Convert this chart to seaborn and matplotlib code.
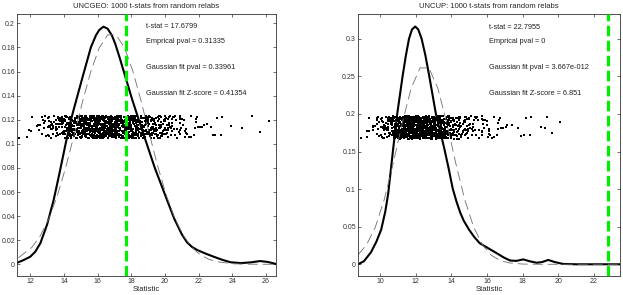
import numpy as np
import pandas as pd
import matplotlib
matplotlib.use('Agg')
import matplotlib.pyplot as plt
import seaborn as sns

# --- UNCGEO panel: density of the 1000 t-stats (solid) and gaussian fit (dashed)
geo_kde_x = [11.22, 11.6, 12.0, 12.3, 12.6, 13.0, 13.4, 13.75, 14.1, 14.4, 14.65,
             15.1, 15.6, 15.9, 16.1, 16.35, 16.6, 16.85, 17.05, 17.3, 17.6, 18.05,
             18.4, 18.8, 19.4, 20.0, 20.55, 21.0, 21.3, 21.6, 21.9, 22.4, 22.9, 23.4,
             23.9, 24.5, 25.1, 25.65, 26.1, 26.6]
geo_kde_y = [0.0013, 0.0035, 0.0063, 0.0105, 0.0175, 0.0330, 0.0540, 0.0765, 0.1000,
             0.1190, 0.1320, 0.1550, 0.1800, 0.1900, 0.1945, 0.1972, 0.1955, 0.1900,
             0.1830, 0.1720, 0.1580, 0.1370, 0.1220, 0.1050, 0.0800, 0.0580, 0.0380,
             0.0250, 0.0185, 0.0145, 0.0120, 0.0090, 0.0063, 0.0038, 0.0017, 0.0010,
             0.0016, 0.0027, 0.0020, 0.0003]
geo_fit_x = [11.3, 12.1, 12.6, 13.1, 13.6, 14.1, 14.6, 15.1, 15.6, 16.1, 16.6, 17.1,
             17.6, 18.1, 18.6, 19.1, 19.6, 20.1, 20.6, 21.1, 21.6, 22.1, 22.6, 23.1,
             24.1, 25.1, 26.6]
geo_fit_y = [0.0055, 0.0141, 0.0238, 0.0377, 0.0566, 0.0801, 0.1069, 0.1347, 0.1601,
             0.1797, 0.1904, 0.1904, 0.1797, 0.1601, 0.1347, 0.1069, 0.0801, 0.0566,
             0.0377, 0.0238, 0.0141, 0.0079, 0.0042, 0.0021, 0.0004, 0.0001, 0.0]
geo_tstat = 17.6799
geo_text = ['t-stat = 17.6799', 'Emprical pval = 0.31335',
            'Gaussian fit pval = 0.33961', 'Gaussian fit Z-score = 0.41354']

# --- UNCUP panel
up_kde_x = [8.77, 9.1, 9.5, 9.8, 10.07, 10.3, 10.47, 10.75, 10.97, 11.27, 11.45, 11.63,
            11.8, 11.98, 12.15, 12.34, 12.55, 12.77, 13.14, 13.4, 13.62, 13.85, 14.08,
            14.3, 14.5, 14.7, 15.0, 15.3, 15.6, 16.17, 16.6, 16.95, 17.3, 17.65, 18.04,
            18.4, 18.79, 19.1, 19.44, 19.8, 20.26, 21.0, 23.46]
up_kde_y = [0.0, 0.004, 0.016, 0.030, 0.046, 0.070, 0.095, 0.155, 0.200, 0.250, 0.277,
            0.300, 0.3125, 0.3164, 0.3125, 0.300, 0.278, 0.250, 0.200, 0.175, 0.153,
            0.128, 0.101, 0.083, 0.069, 0.058, 0.046, 0.036, 0.028, 0.020, 0.014, 0.009,
            0.005, 0.0045, 0.0065, 0.004, 0.002, 0.003, 0.0058, 0.003, 0.0005, 0.0, 0.0]
up_fit_x = [8.77, 9.25, 9.75, 10.25, 10.75, 11.25, 11.75, 12.25, 12.75, 13.25, 13.75,
            14.25, 14.75, 15.25, 15.75, 16.25, 16.75, 17.25, 18.0, 19.0, 23.46]
up_fit_y = [0.0125, 0.0258, 0.0499, 0.0867, 0.1348, 0.1877, 0.2341, 0.2613, 0.2613,
            0.2341, 0.1877, 0.1348, 0.0867, 0.0499, 0.0258, 0.0119, 0.0049, 0.0018,
            0.0003, 0.0, 0.0]
up_tstat = 22.7955
up_text = ['t-stat = 22.7955', 'Emprical pval = 0',
           'Gaussian fit pval = 3.667e-012', 'Gaussian fit Z-score = 6.851']

n_stats = 1000


def stats_from_density(xs, ys, n):
    xs = np.asarray(xs, float)
    ys = np.asarray(ys, float)
    cdf = np.concatenate([[0], np.cumsum(np.diff(xs) * (ys[1:] + ys[:-1]) / 2)])
    cdf /= cdf[-1]
    q = (np.arange(n) + 0.5) / n
    return np.interp(q, cdf, xs)


def jitter(n, lo, hi, k):
    # deterministic hash jitter, just spreads the dots inside their band
    h = np.sin(np.arange(n) * 12.9898 + k * 78.233) * 43758.5453
    return lo + (hi - lo) * (h - np.floor(h))


def draw_panel(ax, kde_x, kde_y, fit_x, fit_y, tstat, band, texts, text_x, text_y,
               title, xlim, ylim, xticks, yticks):
    pts = pd.DataFrame({'stat': stats_from_density(kde_x, kde_y, n_stats)})
    pts['stat'] += jitter(n_stats, -0.15, 0.15, 1)
    pts['level'] = jitter(n_stats, band[0], band[1], 2)
    sns.scatterplot(data=pts, x='stat', y='level', ax=ax, s=1.2, color='black',
                    marker='s', linewidth=0, legend=False)
    sns.lineplot(x=kde_x, y=kde_y, ax=ax, color='black', linewidth=1.5, sort=False)
    sns.lineplot(x=fit_x, y=fit_y, ax=ax, color='#6e6e6e', linewidth=0.6,
                 sort=False).lines[-1].set_dashes((12, 6))
    ax.axvline(tstat, color='#00ee00', linewidth=2.3, dashes=(3.3, 1.4), zorder=5)
    for t, ty in zip(texts, text_y):
        ax.text(text_x, ty, t, fontsize=5.3, va='center', ha='left', color='#222222')
    ax.set_xlim(xlim)
    ax.set_ylim(ylim)
    ax.set_xticks(xticks)
    ax.set_yticks(yticks)
    ax.set_xticklabels([f'{v:g}' for v in xticks])
    ax.set_yticklabels([f'{v:g}' for v in yticks])
    ax.set_title(title, fontsize=5.5, pad=4)
    ax.set_xlabel('Statistic', fontsize=5.5, labelpad=1)
    ax.set_ylabel('')
    ax.tick_params(direction='in', length=2.5, width=0.5, labelsize=5, pad=1.5,
                   top=True, right=True, colors='#333333')
    for sp in ax.spines.values():
        sp.set_visible(True)
        sp.set_linewidth(0.6)
        sp.set_color('#333333')


sns.set_style('ticks')
plt.rcParams['font.family'] = ['Liberation Sans', 'DejaVu Sans']

fig = plt.figure(figsize=(6.23, 2.95), dpi=100)
ax1 = fig.add_axes([0.0275, 0.0644, 0.4155, 0.888])
ax2 = fig.add_axes([0.5746, 0.0644, 0.4205, 0.888])

draw_panel(ax1, geo_kde_x, geo_kde_y, geo_fit_x, geo_fit_y, geo_tstat, (0.1045, 0.1235),
           geo_text, 18.9, [0.197, 0.1847, 0.1637, 0.1419],
           'UNCGEO: 1000 t-stats from random relabs', (11.22, 26.6), (-0.0097, 0.2077),
           [12, 14, 16, 18, 20, 22, 24, 26],
           [0, 0.02, 0.04, 0.06, 0.08, 0.1, 0.12, 0.14, 0.16, 0.18, 0.2])
draw_panel(ax2, up_kde_x, up_kde_y, up_fit_x, up_fit_y, up_tstat, (0.167, 0.197),
           up_text, 16.11, [0.315, 0.296, 0.2618, 0.2277],
           'UNCUP: 1000 t-stats from random relabs', (8.77, 23.46), (-0.0156, 0.333),
           [10, 12, 14, 16, 18, 20, 22],
           [0, 0.05, 0.1, 0.15, 0.2, 0.25, 0.3])

fig.savefig('out.png', dpi=100)
